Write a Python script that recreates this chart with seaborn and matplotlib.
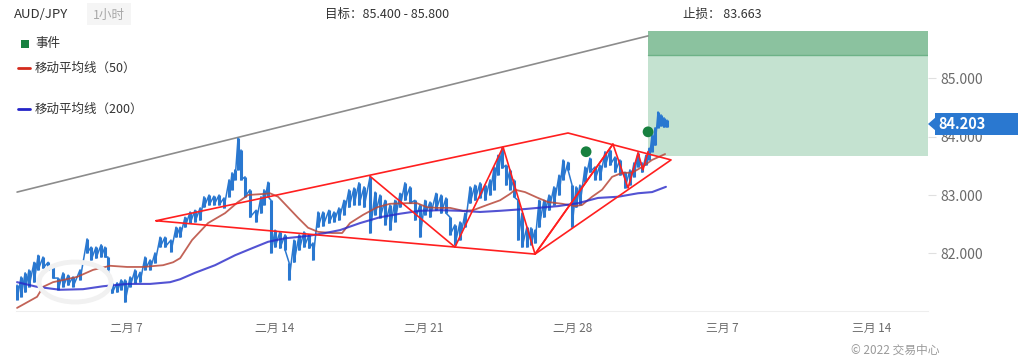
import numpy as np
import pandas as pd
import seaborn as sns
import matplotlib.pyplot as plt
from matplotlib.patches import Rectangle, Polygon, Ellipse
from matplotlib.lines import Line2D

# time axis: days since 1 Feb 2022
bar_day = [0.88, 1.07, 1.26, 1.44, 1.68, 1.87, 2.10, 2.34, 2.57, 2.81, 3.04, 3.28, 3.51,
           3.84, 4.17, 4.36, 4.59, 4.83, 5.01, 5.15, 5.34, 5.58, 5.77, 5.95, 6.19, 6.42,
           6.66, 6.89, 7.13, 7.36, 7.60, 7.83, 8.11, 8.35, 8.54, 8.77, 9.01, 9.24, 9.48,
           9.66, 9.90, 10.13, 10.37, 10.60, 10.84, 10.98, 11.12, 11.26, 11.40, 11.59, 11.82,
           12.11, 12.34, 12.48, 12.67, 12.81, 13.00, 13.23, 13.47, 13.66, 13.89, 14.13, 14.36,
           14.60, 14.78, 15.02, 15.25, 15.53, 15.77, 16.00, 16.24, 16.47, 16.71, 16.94, 17.18,
           17.46, 17.70, 17.93, 18.17, 18.40, 18.63, 18.87, 19.10, 19.34, 19.57, 19.81, 20.04,
           20.28, 20.56, 20.80, 21.03, 21.22, 21.45, 21.69, 21.92, 22.16, 22.39, 22.63, 22.86,
           23.10, 23.29, 23.47, 23.66, 23.85, 24.04, 24.22, 24.41, 24.60, 24.83, 25.02, 25.21,
           25.40, 25.63, 25.87, 26.10, 26.34, 26.53, 26.76, 26.95, 27.14, 27.32, 27.56, 27.79,
           28.03, 28.26, 28.50, 28.73, 28.97, 29.20, 29.44, 29.67, 29.86, 30.05, 30.24, 30.42,
           30.57, 30.71, 30.85, 30.99, 31.13, 31.27, 31.41]
bar_high = [81.46, 81.60, 81.67, 81.72, 81.85, 81.97, 81.94, 81.85, 81.77, 81.58, 81.67, 81.63, 81.60,
            81.72, 82.25, 82.11, 82.11, 82.15, 82.11, 81.94, 81.50, 81.50, 81.55, 81.55, 81.60, 81.72,
            81.68, 81.94, 81.89, 82.01, 82.28, 82.28, 82.23, 82.45, 82.45, 82.62, 82.71, 82.74, 82.78,
            82.97, 83.00, 82.98, 83.00, 82.95, 83.26, 83.38, 83.43, 83.97, 83.77, 83.31, 83.09,
            82.74, 82.97, 83.09, 83.22, 82.91, 82.40, 82.37, 82.32, 81.84, 82.23, 82.32, 82.37,
            82.32, 82.18, 82.71, 82.71, 82.74, 82.71, 82.78, 82.91, 83.09, 83.12, 83.21, 83.14,
            83.31, 83.05, 83.00, 82.91, 82.83, 82.91, 83.03, 83.21, 83.14, 82.91, 82.83, 82.91,
            82.88, 83.03, 83.00, 82.95, 82.62, 82.49, 82.54, 82.69, 83.14, 83.17, 83.21, 83.17,
            83.26, 83.48, 83.68, 83.80, 83.51, 83.43, 83.26, 82.91, 82.69, 82.45, 82.44, 82.40,
            82.91, 82.91, 83.00, 83.14, 83.34, 83.60, 83.56, 83.17, 83.14, 83.17, 83.48, 83.63,
            83.48, 83.51, 83.74, 83.77, 83.65, 83.60, 83.39, 83.43, 83.55, 83.72, 83.55, 83.68,
            83.80, 84.03, 84.15, 84.42, 84.37, 84.32, 84.28]
bar_low = [81.21, 81.26, 81.34, 81.43, 81.51, 81.72, 81.75, 81.72, 81.58, 81.38, 81.43, 81.46, 81.43,
           81.55, 82.01, 81.89, 81.92, 81.94, 81.94, 81.72, 81.32, 81.34, 81.38, 81.17, 81.43, 81.50,
           81.51, 81.72, 81.72, 81.84, 82.11, 82.11, 82.03, 82.28, 82.28, 82.45, 82.52, 82.54, 82.57,
           82.79, 82.83, 82.83, 82.83, 82.78, 82.97, 83.09, 83.26, 83.43, 83.26, 82.97, 82.62,
           82.54, 82.69, 82.83, 82.97, 82.01, 82.11, 82.09, 82.06, 81.55, 81.85, 82.06, 82.11,
           82.09, 81.89, 82.45, 82.47, 82.52, 82.54, 82.57, 82.66, 82.79, 82.83, 82.83, 82.79,
           82.35, 82.66, 82.61, 82.49, 82.40, 82.54, 82.79, 82.91, 82.86, 82.57, 82.28, 82.66,
           82.62, 82.74, 82.69, 82.69, 82.32, 82.15, 82.23, 82.45, 82.86, 82.91, 82.95, 82.91,
           83.00, 83.09, 83.34, 83.46, 83.17, 83.09, 82.97, 82.23, 82.11, 82.11, 82.15, 82.18,
           82.45, 82.62, 82.74, 82.83, 83.00, 83.26, 83.43, 82.45, 82.79, 82.83, 83.22, 83.39,
           83.26, 83.26, 83.48, 83.51, 83.39, 83.34, 83.12, 83.17, 83.31, 83.48, 83.39, 83.51,
           83.60, 83.74, 83.85, 84.15, 84.18, 84.16, 84.16]

ma50_day = [0.88, 1.82, 2.10, 2.57, 3.70, 4.45, 5.25, 6.05, 6.80, 7.74, 8.21, 8.54, 9.10, 9.85,
            10.65, 11.26, 11.73, 12.53, 12.76, 13.14, 13.61, 14.08, 14.55, 15.02, 15.68, 16.15,
            16.52, 17.13, 17.79, 18.40, 19.20, 19.67, 20.14, 20.61, 21.22, 21.83, 22.30, 22.96,
            23.57, 24.04, 24.27, 24.74, 25.35, 25.82, 26.48, 27.09, 27.42, 27.89, 28.36, 28.83,
            29.30, 29.77, 30.24, 30.71, 31.32]
ma50 = [81.07, 81.26, 81.43, 81.51, 81.60, 81.72, 81.79, 81.77, 81.77, 81.80, 81.85, 81.92, 82.23, 82.52,
        82.69, 82.88, 83.00, 83.02, 83.03, 82.97, 82.79, 82.61, 82.44, 82.37, 82.35, 82.35,
        82.52, 82.66, 82.79, 82.85, 82.86, 82.86, 82.79, 82.78, 82.78, 82.73, 82.74, 82.83,
        82.91, 83.02, 83.09, 83.05, 82.95, 82.88, 82.85, 82.81, 82.83, 82.97, 83.09, 83.31,
        83.38, 83.38, 83.48, 83.60, 83.70]

ma200_day = [0.88, 1.82, 2.90, 3.98, 4.92, 6.05, 7.13, 8.07, 8.54, 9.24, 10.18, 11.12, 11.92, 12.67,
             13.47, 14.55, 15.35, 16.05, 16.99, 17.93, 18.87, 19.81, 20.75, 21.69, 22.63, 23.57,
             24.74, 25.35, 26.29, 27.23, 28.17, 29.11, 30.05, 30.71, 31.36]
ma200 = [81.51, 81.43, 81.38, 81.39, 81.44, 81.48, 81.48, 81.51, 81.56, 81.67, 81.80, 81.97, 82.09, 82.20,
         82.26, 82.30, 82.35, 82.40, 82.52, 82.62, 82.68, 82.73, 82.74, 82.73, 82.71, 82.73,
         82.76, 82.78, 82.81, 82.86, 82.95, 82.97, 83.03, 83.05, 83.14]

# chart pattern (wedge outline + zigzag)
wedge_day = [7.41, 26.76, 31.60, 25.21, 7.41]
wedge_price = [82.56, 84.06, 83.60, 81.99, 82.56]
zigzag_day = [17.46, 21.45, 23.71, 25.21, 28.87, 29.58, 30.05, 30.28, 30.52]
zigzag_price = [83.32, 82.11, 83.82, 81.99, 83.87, 83.12, 83.72, 83.43, 83.74]
trend_day = [0.88, 30.52]
trend_price = [83.05, 85.72]

event_day = [27.61, 30.52]
event_price = [83.74, 84.08]

target_lo, target_hi, stop = 85.400, 85.800, 83.663
last_price = 84.203

tick_days = [6, 13, 20, 27, 34, 41]
tick_labels = ['二月 7', '二月 14', '二月 21', '二月 28', '三月 7', '三月 14']
ytick_vals = [82, 83, 84, 85]

sns.set_style("white")
plt.rcParams['font.family'] = ['Noto Sans CJK SC', 'DejaVu Sans']

W, H = 1018, 363
fig = plt.figure(figsize=(W / 100, H / 100), dpi=100)
ax = fig.add_axes([16 / W, 1 - 311 / H, 912 / W, 283 / H])
x_min, x_max = 0.83, 43.67
ax.set_xlim(x_min, x_max)
ax.set_ylim(81.017, 85.855)


def fx(px):
    return px / W


def fy(py):
    return 1 - py / H


# target / stop zone
ax.fill_between([event_day[-1], x_max], stop, target_lo, color='#c4e2d0', lw=0, zorder=0)
ax.fill_between([event_day[-1], x_max], target_lo, target_hi, color='#8bc29f', lw=0, zorder=0)
ax.plot([event_day[-1], x_max], [target_lo, target_lo], color='#6db287', lw=1, zorder=0.5)

# faint watermark ring
fig.patches.append(Ellipse((fx(75), fy(282)), 72 / W, 40 / H, transform=fig.transFigure,
                           fill=False, ec='#f1f1f1', lw=3.5, zorder=0))

# price bars
ax.vlines(bar_day, bar_low, bar_high, color='#2a78d0', lw=2.2, zorder=3)
path = pd.DataFrame({
    'day': np.repeat(bar_day, 2),
    'price': np.ravel(np.column_stack([bar_high, bar_low])),
})
sns.lineplot(data=path, x='day', y='price', sort=False, estimator=None,
             color='#2a78d0', lw=1.1, ax=ax, zorder=3)

# moving averages
sns.lineplot(x=ma50_day, y=ma50, color='#b8483a', lw=1.3, alpha=0.85, ax=ax, zorder=4)
sns.lineplot(x=ma200_day, y=ma200, color='#2828c8', lw=1.5, alpha=0.8, ax=ax, zorder=4)

# pattern lines
ax.plot(trend_day, trend_price, color='#8c8c8c', lw=1.2, zorder=2)
ax.plot(wedge_day, wedge_price, color='#ff1f1f', lw=1.2, zorder=5)
ax.plot([wedge_day[3], zigzag_day[4]], [wedge_price[3], zigzag_price[4]], color='#ff1f1f', lw=1.2, zorder=5)
ax.plot(zigzag_day, zigzag_price, color='#ff1f1f', lw=1.2, zorder=5)

sns.scatterplot(x=event_day, y=event_price, color='#17803f', s=60, edgecolor='none', ax=ax, zorder=6)

# axes styling
for s in ['top', 'left', 'right']:
    ax.spines[s].set_visible(False)
ax.spines['bottom'].set_color('#eeeeee')
ax.yaxis.tick_right()
ax.set_yticks(ytick_vals)
ax.set_yticklabels([f'{v:.3f}' for v in ytick_vals])
ax.set_xticks(tick_days)
ax.set_xticklabels(tick_labels)
ax.tick_params(axis='y', length=6, color='#e0e0e0', labelcolor='#6a6a6a', labelsize=10, pad=3)
ax.tick_params(axis='x', length=4, color='#eeeeee', labelcolor='#6a6a6a', labelsize=8.5, pad=4)
ax.set_xlabel('')
ax.set_ylabel('')
ax.grid(False)

# last price tag
fig.patches.append(Rectangle((fx(935), fy(135)), 83 / W, 22 / H, transform=fig.transFigure,
                             fc='#2a78d0', ec='none', zorder=10))
fig.patches.append(Polygon([(fx(928), fy(124)), (fx(936), fy(117)), (fx(936), fy(131))],
                           transform=fig.transFigure, fc='#2a78d0', ec='none', zorder=10))
fig.text(fx(938), fy(124), f'{last_price:.3f}', color='white', fontsize=10.5,
         fontweight='semibold', va='center', ha='left', zorder=11)

# header
fig.text(fx(14), fy(15), 'AUD/JPY', fontsize=9.5, color='#333333', va='center')
fig.patches.append(Rectangle((fx(87), fy(25)), 44 / W, 22 / H, transform=fig.transFigure,
                             fc='#f5f5f5', ec='none', zorder=0))
fig.text(fx(109), fy(15), '1小时', fontsize=9, color='#a8a8a8', va='center', ha='center')
fig.text(fx(325), fy(14), f'目标：{target_lo:.3f} - {target_hi:.3f}', fontsize=9, color='#333333', va='center')
fig.text(fx(683), fy(14), f'止损： {stop:.3f}', fontsize=9, color='#333333', va='center')

# legend
fig.patches.append(Rectangle((fx(21), fy(48)), 8 / W, 8 / H, transform=fig.transFigure,
                             fc='#17803f', ec='none'))
fig.text(fx(35), fy(44), '事件', fontsize=9, color='#333333', va='center')
fig.lines.append(Line2D([fx(18), fx(30)], [fy(68), fy(68)], transform=fig.transFigure,
                        color='#d42a1c', lw=2))
fig.text(fx(35), fy(68), '移动平均线（50）', fontsize=9, color='#333333', va='center')
fig.lines.append(Line2D([fx(18), fx(30)], [fy(109), fy(109)], transform=fig.transFigure,
                        color='#2424c8', lw=2))
fig.text(fx(35), fy(109), '移动平均线（200）', fontsize=9, color='#333333', va='center')

fig.text(fx(851), fy(350), '© 2022 交易中心', fontsize=8.5, color='#9a9a9a', va='center')

fig.savefig('out.png', dpi=100)
